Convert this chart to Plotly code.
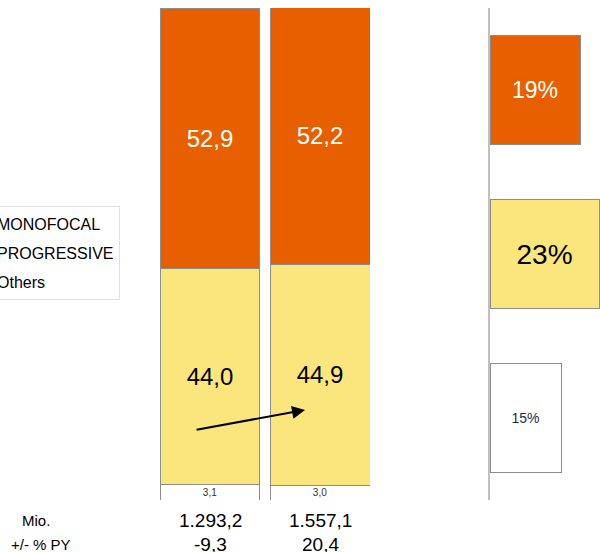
import plotly.graph_objects as go

# ---- data ----
periods = ["P1", "P2"]
others = [3.1, 3.0]
progressive = [44.0, 44.9]
monofocal = [52.9, 52.2]
sales_mio = [1293.2, 1557.1]
change_py = [-9.3, 20.4]

growth_cats = ["Others", "PROGRESSIVE", "MONOFOCAL"]
growth_vals = [15, 23, 19]

ORANGE = "#E85F00"
YELLOW = "#FBE57D"
WHITE = "#FFFFFF"
EDGE = "#8C8C8C"
FONT = "Liberation Sans, Arial, sans-serif"


def de(v, nd=1):
    s = f"{v:,.{nd}f}"
    return s.replace(",", "X").replace(".", ",").replace("X", ".")


W, H = 600, 552
fig = go.Figure()

segs = [
    ("Others", others, WHITE, "#333333", 10, "g3", 3),
    ("PROGRESSIVE", progressive, YELLOW, "black", 24, "g2", 2),
    ("MONOFOCAL", monofocal, ORANGE, "white", 24, "g1", 1),
]
for name, vals, col, tcol, tsize, grp, rank in segs:
    fig.add_trace(go.Bar(
        x=periods, y=vals, name=name, legendgroup=grp, legendrank=rank,
        marker=dict(color=col, line=dict(color=EDGE, width=1)),
        text=[de(v) for v in vals], textposition="inside",
        insidetextanchor="middle", textangle=0, constraintext="none",
        textfont=dict(color=tcol, size=tsize, family=FONT),
        width=0.909, xaxis="x", yaxis="y", hoverinfo="skip",
    ))

fig.add_trace(go.Bar(
    y=growth_cats, x=growth_vals, orientation="h", showlegend=False,
    marker=dict(color=[WHITE, YELLOW, ORANGE], line=dict(color=EDGE, width=1)),
    text=[f"{v}%" for v in growth_vals], textposition="inside",
    insidetextanchor="middle", textangle=0, constraintext="none",
    textfont=dict(color=["#1f2d3d", "black", "white"], size=[14, 28, 23], family=FONT),
    width=0.67, xaxis="x2", yaxis="y2", hoverinfo="skip",
))

ydom = [(H - 500) / H, (H - 8) / H]
fig.update_layout(
    width=W, height=H,
    margin=dict(l=0, r=0, t=0, b=0, autoexpand=False),
    paper_bgcolor="white", plot_bgcolor="rgba(0,0,0,0)",
    barmode="stack",
    font=dict(family=FONT, color="black"),
    xaxis=dict(domain=[160 / W, 370 / W], range=[-0.4545, 1.4545], visible=False),
    yaxis=dict(domain=ydom, range=[0, 100], visible=False),
    xaxis2=dict(domain=[490 / W, 1.0], range=[0, 110 / 4.74], visible=False, anchor="y2"),
    yaxis2=dict(domain=ydom, range=[-0.5, 2.5], anchor="x2", showline=True,
                linecolor="#C0C0C0", linewidth=2, showticklabels=False,
                ticks="", showgrid=False, zeroline=False),
    legend=dict(x=-44 / W, xanchor="left", y=(H - 206) / H, yanchor="top",
                bordercolor="#E0E0E0", borderwidth=1, bgcolor="white",
                font=dict(size=16, family=FONT, color="black"),
                tracegroupgap=5, traceorder="grouped"),
    showlegend=True,
)

# bottom figures
for i, p in enumerate(periods):
    fig.add_annotation(x=p, xref="x", y=(H - 520) / H, yref="paper",
                       xanchor="center", yanchor="middle",
                       text=de(sales_mio[i]), showarrow=False,
                       font=dict(size=19, family=FONT))
    fig.add_annotation(x=p, xref="x", y=(H - 544) / H, yref="paper",
                       xanchor="center", yanchor="middle",
                       text=de(change_py[i]), showarrow=False,
                       font=dict(size=19, family=FONT))
fig.add_annotation(x=36 / W, xref="paper", y=(H - 520) / H, yref="paper",
                   xanchor="center", yanchor="middle",
                   text="Mio.", showarrow=False, font=dict(size=15, family=FONT))
fig.add_annotation(x=41 / W, xref="paper", y=(H - 544) / H, yref="paper",
                   xanchor="center", yanchor="middle",
                   text="+/- % PY", showarrow=False, font=dict(size=15, family=FONT))

# trend arrow
fig.add_annotation(x=0.864, xref="x", y=18.3, yref="y", ax=-110, ay=20,
                   showarrow=True, arrowhead=2, arrowsize=1.3, arrowwidth=2,
                   arrowcolor="black", text="")

fig.write_html("out.html", config={"displayModeBar": False},
               post_script="document.body.style.margin='0';")
